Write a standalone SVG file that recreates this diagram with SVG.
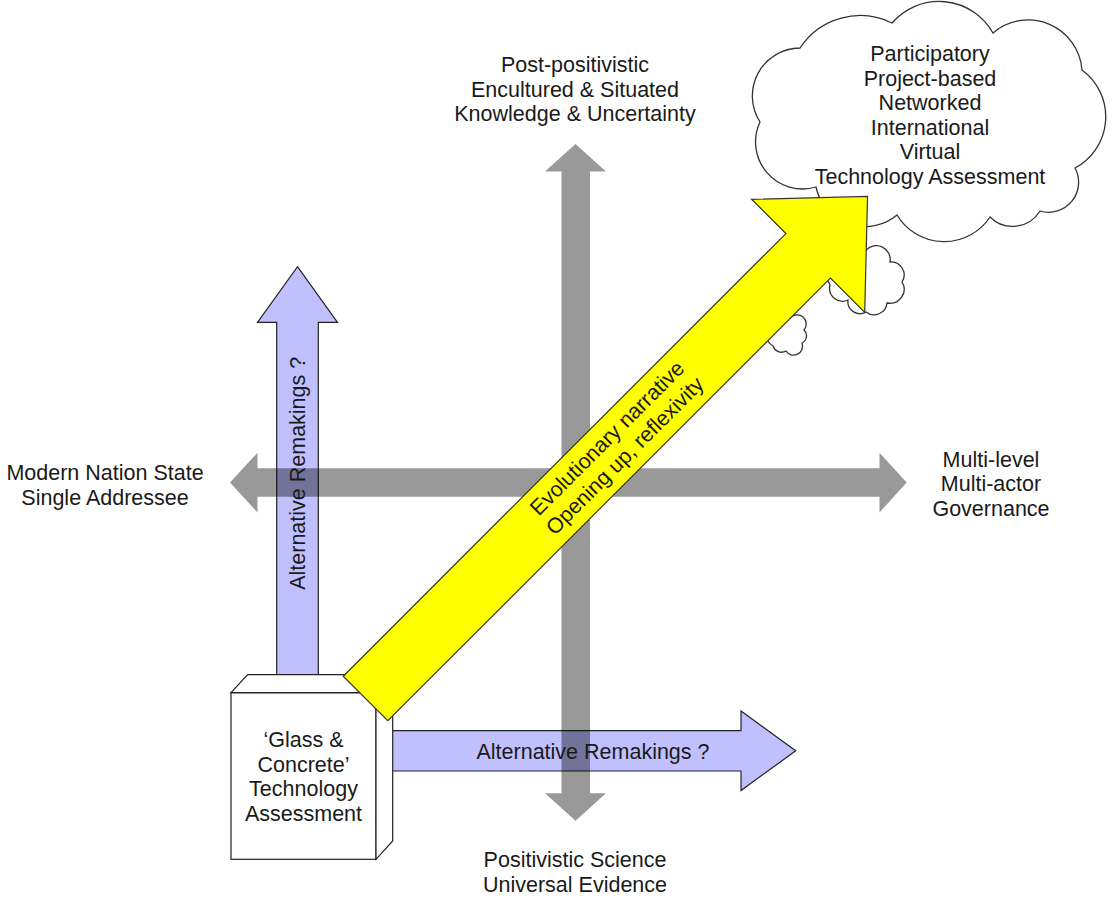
<svg xmlns="http://www.w3.org/2000/svg" width="1112" height="899" viewBox="0 0 1112 899">
<style>
  .t { font-family: "Liberation Sans", Arial, Helvetica, sans-serif; font-size: 21.5px; fill: #1a1a1a; text-anchor: middle; }
  .purple { fill: #c0c0ff; stroke: #222; stroke-width: 1.2; stroke-linejoin: miter; }
  .gray { fill: #000; fill-opacity: 0.4; stroke: none; }
  .yellow { fill: #ffff00; stroke: #333; stroke-width: 1.2; stroke-linejoin: miter; }
  .cloud { fill: #fff; stroke: #333; stroke-width: 1.3; }
  .box { fill: #fff; stroke: #222; stroke-width: 1.2; stroke-linejoin: miter; }
</style>
<rect width="1112" height="899" fill="#fff"/>

<g id="cloud">
  <path class="cloud" d="M816,187 A47,47 0 0 1 760,122 A48,48 0 0 1 800,48 A72,72 0 0 1 892,23 A62,62 0 0 1 993,33 A54,54 0 0 1 1082,70 A58,58 0 0 1 1075,168 A30,30 0 0 1 1040,211 A32,32 0 0 1 990,217 A55,55 0 0 1 897,215 A50,50 0 0 1 816,187 Z"/>
  <path class="cloud" d="M866,250 A14,14 0 0 1 890,262 A13,13 0 0 1 902,282 A14,14 0 0 1 887,303 A13,13 0 0 1 866,312 A12,12 0 0 1 848,300 A13,13 0 0 1 830,285 A18,18 0 0 1 850,258 A10,10 0 0 1 866,250 Z"/>
  <path class="cloud" d="M790,318 A9,9 0 0 1 804,330 A8,8 0 0 1 802,343 A9,9 0 0 1 786,351 A9,9 0 0 1 773,346 A16,16 0 0 1 790,318 Z"/>
  <text class="t" x="930" y="61">Participatory</text>
  <text class="t" x="930" y="85.5">Project-based</text>
  <text class="t" x="930" y="110">Networked</text>
  <text class="t" x="930" y="134.5">International</text>
  <text class="t" x="930" y="159">Virtual</text>
  <text class="t" x="930" y="183.5">Technology Assessment</text>
</g>

<g id="connectors">
  <g id="alt-up">
    <path class="purple" d="M297.5,266.7 L337.5,322.3 L318.3,322.3 L318.3,676 L276.7,676 L276.7,322.3 L257.5,322.3 Z"/>
  </g>
  <g id="alt-right">
    <path class="purple" d="M385,730.7 L741,730.7 L741,711 L795.7,750.8 L741,790.5 L741,771 L385,771 Z"/>
  </g>
  <g id="axis-horizontal">
    <path class="gray" d="M230,482.5 L257.5,452.7 L257.5,468.3 L879.5,468.3 L879.5,452.7 L906.7,482.5 L879.5,512.5 L879.5,496.7 L257.5,496.7 L257.5,512.5 Z"/>
  </g>
  <g id="axis-vertical">
    <path class="gray" d="M575.5,144 L606,171.5 L590,171.5 L590,793.3 L606,793.3 L575.5,820.7 L545,793.3 L561.5,793.3 L561.5,171.5 L545,171.5 Z"/>
  </g>
  <text class="t" transform="translate(305,473.3) rotate(-90)" x="0" y="0">Alternative Remakings ?</text>
  <text class="t" x="593" y="759.3">Alternative Remakings ?</text>
</g>

<g id="glass-concrete-box">
  <rect class="box" x="231" y="692.7" width="145" height="166.6"/>
  <polygon class="box" points="231,692.7 247.7,674.7 392.7,674.7 376,692.7"/>
  <polygon class="box" points="376,692.7 392.7,674.7 392.7,841 376,859.3"/>
  <text class="t" x="303.5" y="746.7">‘Glass &amp;</text>
  <text class="t" x="303.5" y="771.5">Concrete’</text>
  <text class="t" x="303.5" y="796.3">Technology</text>
  <text class="t" x="303.5" y="821.1">Assessment</text>
</g>

<g id="evolutionary-arrow" transform="translate(365.5,698.5) rotate(-45)">
  <polygon class="yellow" points="0,-31.5 626,-31.5 626,-80 710,0 626,80 626,31.5 0,31.5"/>
  <text class="t" x="355" y="-6">Evolutionary narrative</text>
  <text class="t" x="355" y="19">Opening up, reflexivity</text>
</g>

<g id="label-top">
  <text class="t" x="575" y="72.3">Post-positivistic</text>
  <text class="t" x="575" y="96.8">Encultured &amp; Situated</text>
  <text class="t" x="575" y="121.3">Knowledge &amp; Uncertainty</text>
</g>
<g id="label-left">
  <text class="t" x="105" y="480">Modern Nation State</text>
  <text class="t" x="105" y="504.5">Single Addressee</text>
</g>
<g id="label-right">
  <text class="t" x="991" y="466.5">Multi-level</text>
  <text class="t" x="991" y="491">Multi-actor</text>
  <text class="t" x="991" y="515.5">Governance</text>
</g>
<g id="label-bottom">
  <text class="t" x="575" y="867.3">Positivistic Science</text>
  <text class="t" x="575" y="891.7">Universal Evidence</text>
</g>
</svg>
